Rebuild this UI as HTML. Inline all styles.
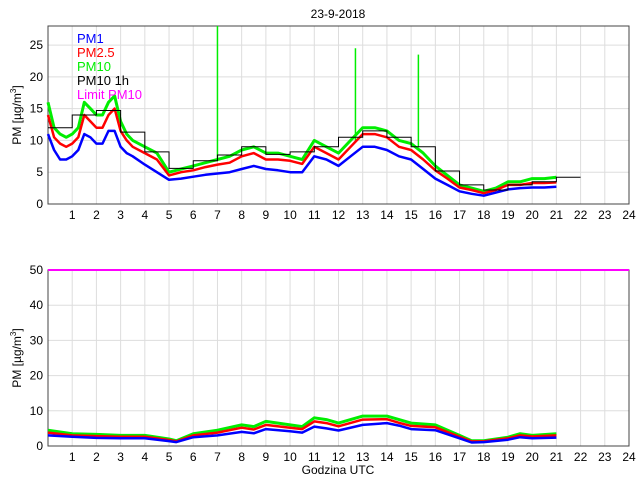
<!DOCTYPE html>
<html><head><meta charset="utf-8"><style>
body{margin:0;background:#fff;}
svg text{font-family:"Liberation Sans",sans-serif;font-size:12px;fill:#000;}
</style></head><body>
<svg id="c" width="640" height="480" xmlns="http://www.w3.org/2000/svg">
<text x="338" y="18" text-anchor="middle">23-9-2018</text>
</svg>
<script>
// Top panel data (hours, µg/m3)
const topT = [0,0.25,0.5,0.75,1,1.25,1.5,1.75,2,2.25,2.5,2.75,3,3.25,3.5,4,4.5,5,5.5,6,6.5,7,7.5,8,8.5,9,9.5,10,10.5,11,11.5,12,12.5,13,13.5,14,14.5,15,15.5,16,16.5,17,17.5,18,18.5,19,19.5,20,20.5,21];
const topPM10 = [16,12,11,10.5,11,12,16,15,14,14,16,17,13,11,10,9,8,5,5.5,6,6.5,7,7.5,8.5,9,8,8,7.5,7,10,9,8,10,12,12,11.5,10,9.5,8,6,4.5,3,2.5,2,2.5,3.5,3.5,4,4,4.2];
const topPM25 = [14,10.5,9.5,9,9.5,10.5,14,13,12,12,14,15,11.5,10,9,8,7,4.5,5,5.3,5.8,6.2,6.5,7.5,8,7,7,6.8,6.3,9,8,7,9,11,11,10.5,9,8.5,7,5.3,4,2.6,2.2,1.7,2.2,3,3,3.3,3.3,3.4];
const topPM1 = [11,8.5,7,7,7.5,8.5,11,10.5,9.5,9.5,11.5,11.5,9,8,7.5,6.2,5,3.8,4,4.3,4.6,4.8,5,5.5,6,5.5,5.3,5,5,7.5,7,6,7.5,9,9,8.5,7.5,7,5.5,4,3,2,1.6,1.3,1.8,2.3,2.5,2.6,2.6,2.7];
const spikeT = [7.0,12.7,15.3];
const spikeV = [28,24.5,23.5];
const spikeBase = [7,10,9];
const hourLabels = [1,2,3,4,5,6,7,8,9,10,11,12,13,14,15,16,17,18,19,20,21,22,23,24];
const hourly10 = [12,14,14.7,11.3,8.2,5.6,6.8,7.7,9,7.8,8.2,9,10.5,11.5,10.5,9,5.2,3,2.2,3,3.5,4.2];
const topTicks = [0,5,10,15,20,25];
// Bottom panel data
const botT = [0,1,2,3,4,5,5.3,6,7,8,8.5,9,10,10.5,11,11.5,12,13,14,14.5,15,16,17,17.5,18,19,19.5,20,21];
const botPM10 = [4.5,3.5,3.3,3,3,2,1.5,3.5,4.5,6,5.5,7,6,5.5,8,7.5,6.5,8.5,8.5,7.5,6.5,6,3,1.5,1.5,2.5,3.5,3,3.5];
const botPM25 = [3.8,3,2.8,2.6,2.6,1.7,1.3,3,3.8,5.2,4.7,6,5.2,4.8,7,6.5,5.6,7.5,7.6,6.6,5.7,5.3,2.6,1.3,1.3,2.2,3,2.7,3];
const botPM1 = [3,2.6,2.3,2.2,2.2,1.4,1.1,2.5,3,4,3.6,4.8,4.2,3.8,5.5,5,4.4,6,6.5,5.8,4.8,4.5,2.2,1,1.1,1.8,2.5,2.2,2.4];
const botTicks = [0,10,20,30,40,50];
const limit10 = 50;

const NS="http://www.w3.org/2000/svg", svg=document.getElementById('c');
function mk(tag,attrs,parent){const e=document.createElementNS(NS,tag);for(const k in attrs)e.setAttribute(k,attrs[k]);(parent||svg).appendChild(e);return e;}
function panel(name,top,bottom,ymax,ticks){
  const L=48,R=629;
  const x=h=>L+(R-L)*h/24, y=v=>bottom-(bottom-top)*v/ymax;
  const g=mk('g',{});
  
  
  hourLabels.forEach(h=>{const l=mk('line',{x1:x(h),x2:x(h),y1:top,y2:bottom,stroke:'#ddd'},g);
    
    const t=mk('text',{x:x(h),y:bottom+15,'text-anchor':'middle'},g);t.textContent=h;
    });
  ticks.forEach(v=>{const l=mk('line',{x1:L,x2:R,y1:y(v),y2:y(v),stroke:'#ddd'},g);
    
    const t=mk('text',{x:L-5,y:y(v)+4,'text-anchor':'end'},g);t.textContent=v;
    });
  const b=mk('rect',{x:L,y:top,width:R-L,height:bottom-top,fill:'none',stroke:'#444'},g);
  
  const yt=mk('text',{transform:`translate(21,${(top+bottom)/2}) rotate(-90)`,'text-anchor':'middle'},g);
  yt.innerHTML='PM [µg/m<tspan dy="-5" font-size="8">3</tspan><tspan dy="5">]</tspan>';
  
  return {g,x,y};
}
function series(p,T,V,color,name,w){
  const pts=T.map((t,i)=>p.x(t).toFixed(1)+','+p.y(V[i]).toFixed(1)).join(' ');
  const pl=mk('polyline',{points:pts,fill:'none',stroke:color,'stroke-width':w,'stroke-linejoin':'round'},p.g);
  
}
const p1=panel('top',26,204,28,topTicks);
series(p1,topT,topPM10,'#00ee00','pm10-line',3);
spikeT.forEach((t,i)=>{const s=mk('line',{x1:p1.x(t),x2:p1.x(t),y1:p1.y(spikeBase[i]),y2:p1.y(spikeV[i]),stroke:'#00ee00','stroke-width':1.5},p1.g);
  });
series(p1,topT,topPM25,'#ff0000','pm25-line',2.5);
series(p1,topT,topPM1,'#0000ff','pm1-line',2.5);
let d='';hourly10.forEach((v,i)=>{d+=(i?'L':'M')+p1.x(i)+','+p1.y(v)+'L'+p1.x(i+1)+','+p1.y(v);});
const st=mk('path',{d:d,fill:'none',stroke:'#000','stroke-width':1},p1.g);

[['PM1','#0000ff'],['PM2.5','#ff0000'],['PM10','#00ee00'],['PM10 1h','#000'],['Limit PM10','#ff00ff']].forEach((e,i)=>{
  const t=mk('text',{x:77,y:43+i*14,fill:e[1],style:'fill:'+e[1]+';font-size:13px'});t.textContent=e[0];
  });
const p2=panel('bottom',270,446,50,botTicks);
series(p2,botT,botPM10,'#00ee00','pm10-line',3);
series(p2,botT,botPM25,'#ff0000','pm25-line',2.5);
series(p2,botT,botPM1,'#0000ff','pm1-line',2.5);
const lim=mk('line',{x1:p2.x(0),x2:p2.x(24),y1:p2.y(limit10),y2:p2.y(limit10),stroke:'#ff00ff','stroke-width':2},p2.g);

const xl=mk('text',{x:338,y:474,'text-anchor':'middle'});xl.textContent='Godzina UTC';

</script>
</body></html>
